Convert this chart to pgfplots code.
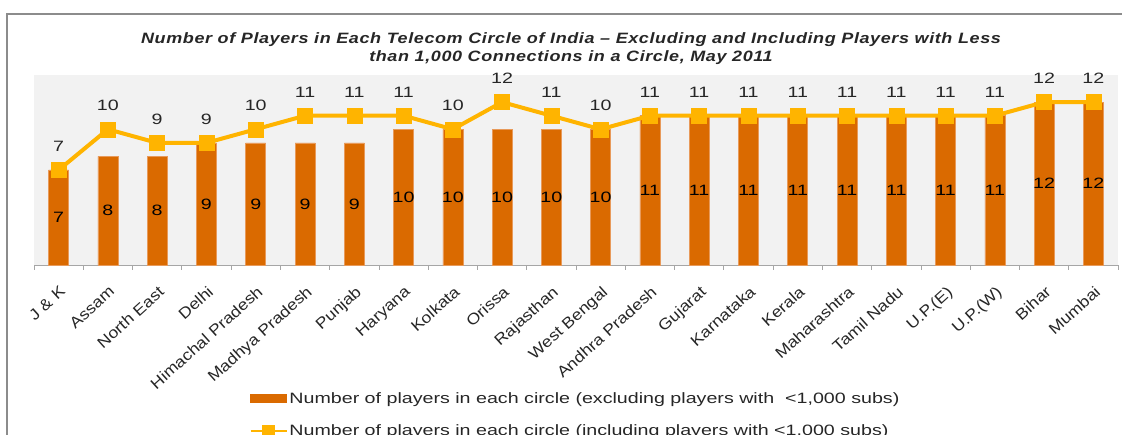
\documentclass[border=0pt]{standalone}
\usepackage{fontspec}
\setmainfont{Liberation Sans}[FakeStretch=1.31]
\newfontfamily\tickfont{Liberation Sans}[FakeStretch=1.14]
\newfontfamily\titlefont{Liberation Sans}[FakeStretch=1.2, LetterSpace=4]
\usepackage{pgfplots}
\pgfplotsset{compat=1.18}
\definecolor{barorange}{HTML}{DA6A00}
\definecolor{baredge}{HTML}{E89A5A}
\definecolor{lineyellow}{HTML}{FFB400}
\definecolor{bggray}{HTML}{F2F2F2}
\definecolor{bordergray}{HTML}{8C8C8C}
\definecolor{txt}{HTML}{262626}
\newcommand{\f}{\fontsize{15}{18}\selectfont}
\begin{document}
\begin{tikzpicture}[x=1pt,y=1pt]
\useasboundingbox (0,0) rectangle (1122,435);
\draw[bordergray, line width=1.5pt] (7,-5) -- (7,421) -- (1130,421);
\node[font=\titlefont\fontsize{15}{18.5}\selectfont\bfseries\itshape, align=center, text=txt, anchor=north] at (571,406)
  {Number of Players in Each Telecom Circle of India – Excluding and Including Players with Less\\than 1,000 Connections in a Circle, May 2011};
\begin{axis}[
  at={(34pt,170pt)}, anchor=south west,
  scale only axis, width=1084pt, height=190pt,
  xmin=-0.5, xmax=21.5, ymin=0, ymax=14,
  axis background/.style={fill=bggray},
  axis x line*=bottom, axis y line=none,
  x axis line style={-, draw=black!35, line width=0.8pt},
  xtick={0,...,21},
  major tick length=0pt,
  minor xtick={-0.5,0.5,...,21.5},
  minor tick length=5pt,
  tick align=outside,
  minor tick style={draw=black!35, line width=0.8pt},
  xticklabels={J \& K, Assam, North East, Delhi, Himachal Pradesh, Madhya Pradesh, Punjab, Haryana, Kolkata, Orissa, Rajasthan, West Bengal, Andhra Pradesh, Gujarat, Karnataka, Kerala, Maharashtra, Tamil Nadu, U.P.(E), U.P.(W), Bihar, Mumbai},
  xticklabel style={rotate=42, anchor=north east, font=\tickfont\fontsize{15.5}{18}\selectfont, text=txt, inner sep=0pt, yshift=-15pt, xshift=-13pt},
  clip=false,
  legend style={at={(0.199,-0.66)}, anchor=north west, draw=none, fill=none, font=\f, row sep=16pt, text=txt, inner sep=0pt},
  legend cell align=left,
]
\addplot[ybar, bar width=20pt, bar shift=0pt, fill=barorange, draw=baredge, line width=0.6pt,
  legend image code/.code={\fill[barorange] (0pt,-4pt) rectangle (36pt,4pt);}]
  coordinates {(0,7) (1,8) (2,8) (3,9) (4,9) (5,9) (6,9) (7,10) (8,10) (9,10) (10,10) (11,10) (12,11) (13,11) (14,11) (15,11) (16,11) (17,11) (18,11) (19,11) (20,12) (21,12)};
\addlegendentry{Number of players in each circle (excluding players with \ <1,000 subs)}
\addplot[lineyellow, line width=4pt, mark=square*, mark size=7.5pt, mark options={line width=0.5pt},
  nodes near coords, point meta=explicit symbolic,
  nodes near coords style={anchor=south, inner sep=0pt, yshift=18pt, font=\f, text=txt},
  legend image code/.code={\draw[lineyellow, line width=1.5pt] (0pt,0pt) -- (36pt,0pt); \fill[lineyellow] (13pt,-4.5pt) rectangle (22pt,4.5pt);}]
  coordinates {(0,7)[7] (1,10)[10] (2,9)[9] (3,9)[9] (4,10)[10] (5,11)[11] (6,11)[11] (7,11)[11] (8,10)[10] (9,12)[12] (10,11)[11] (11,10)[10] (12,11)[11] (13,11)[11] (14,11)[11] (15,11)[11] (16,11)[11] (17,11)[11] (18,11)[11] (19,11)[11] (20,12)[12] (21,12)[12]};
\addlegendentry{Number of players in each circle (including players with <1,000 subs)}
\addplot[draw=none, mark=none, forget plot, nodes near coords, point meta=explicit symbolic,
  nodes near coords style={anchor=center, inner sep=0pt, font=\f, text=black}]
  coordinates {(0,3.5)[7] (1,4)[8] (2,4)[8] (3,4.5)[9] (4,4.5)[9] (5,4.5)[9] (6,4.5)[9] (7,5)[10] (8,5)[10] (9,5)[10] (10,5)[10] (11,5)[10] (12,5.5)[11] (13,5.5)[11] (14,5.5)[11] (15,5.5)[11] (16,5.5)[11] (17,5.5)[11] (18,5.5)[11] (19,5.5)[11] (20,6)[12] (21,6)[12]};
\end{axis}
\end{tikzpicture}
\end{document}
